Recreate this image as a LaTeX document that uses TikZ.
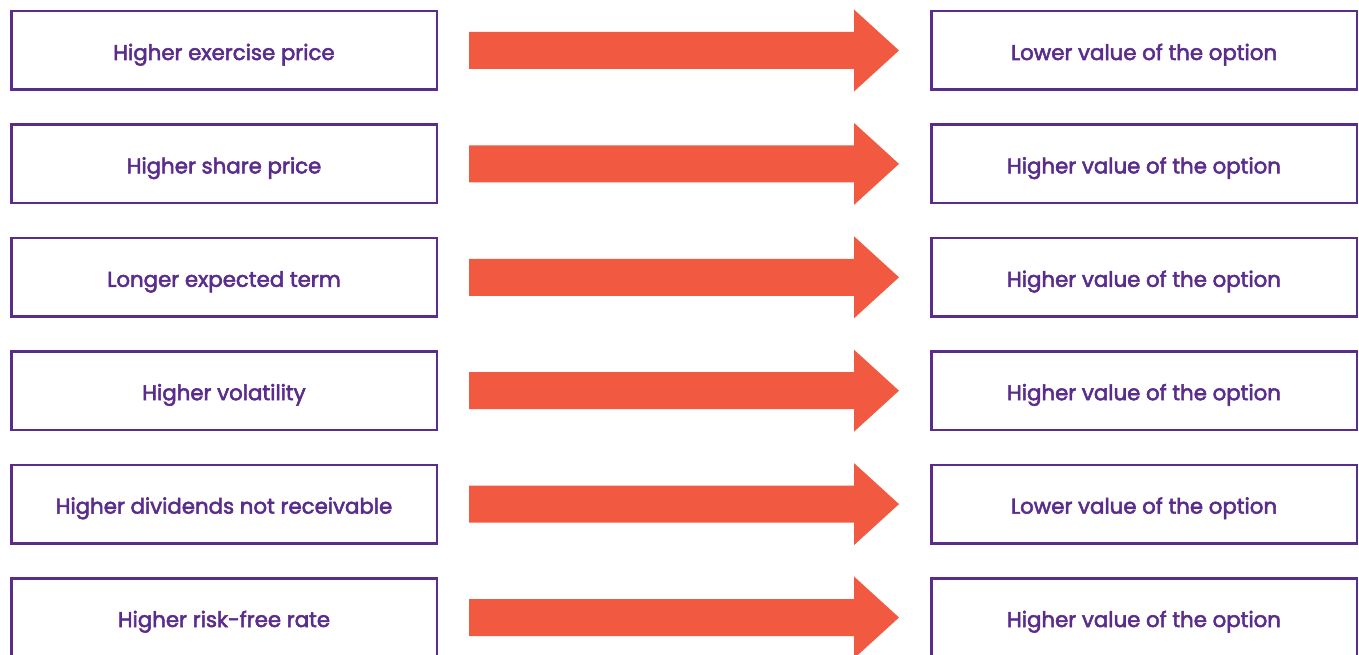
\documentclass[tikz,border=0pt]{standalone}
\usepackage{fontspec}
\newfontfamily\labfont{Poppins}[FakeBold=2.6]
\usetikzlibrary{calc}
\definecolor{boxpurple}{HTML}{5A2D8C}
\definecolor{arroworange}{HTML}{F15A40}
\begin{document}
\begin{tikzpicture}[x=1pt,y=-1pt,
  factor/.style={draw=boxpurple, line width=2.5pt, minimum width=425.5pt,
    minimum height=78.5pt, inner sep=0pt, text=boxpurple,
    text height=19pt, text depth=0pt,
    font=\labfont\fontsize{21.3}{25}\selectfont},
  fatarrow/.style={fill=arroworange, draw=none}]
\useasboundingbox (0,0) rectangle (1359,655);
\clip (0,0) rectangle (1359,655);
\foreach \i/\cause/\effect in {
  0/Higher exercise price/Lower value of the option,
  1/Higher share price/Higher value of the option,
  2/Longer expected term/Higher value of the option,
  3/Higher volatility/Higher value of the option,
  4/Higher dividends not receivable/Lower value of the option,
  5/Higher risk-free rate/Higher value of the option}{
  \node[factor] (L\i) at (224, 50.5+113.4*\i) {\cause};
  \node[factor] (R\i) at (1144, 50.5+113.4*\i) {\effect};
  \coordinate (s\i) at ($(L\i.east)+(31,0)$);
  \coordinate (t\i) at ($(R\i.west)+(-31,0)$);
  \fill[fatarrow] ($(s\i)+(0,-18.5)$) -- ($(t\i)+(-45,-18.5)$)
    -- ($(t\i)+(-45,-41)$) -- (t\i) -- ($(t\i)+(-45,41)$)
    -- ($(t\i)+(-45,18.5)$) -- ($(s\i)+(0,18.5)$) -- cycle;
}
\end{tikzpicture}
\end{document}
